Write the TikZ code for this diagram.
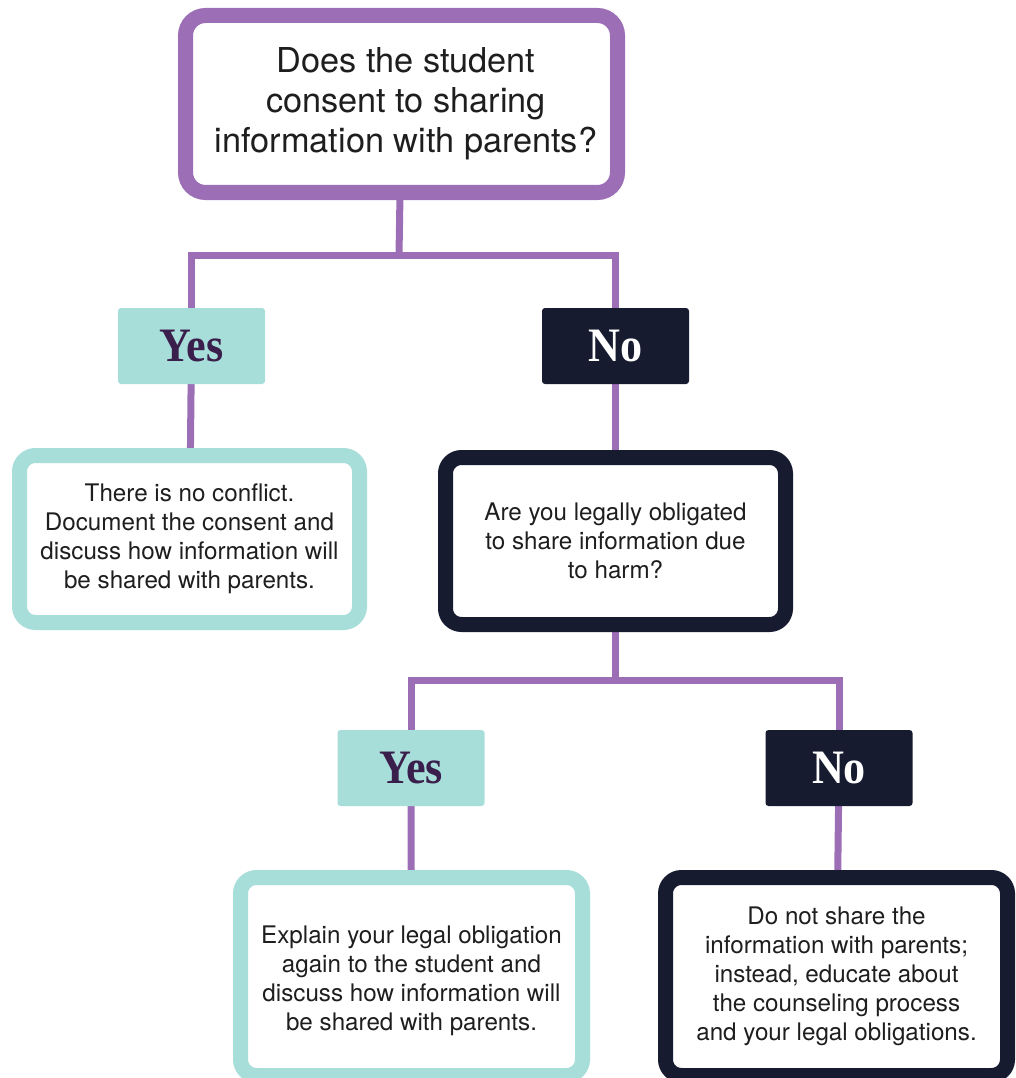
\documentclass[tikz,border=0pt]{standalone}
\usepackage{fontspec}
\setmainfont{TeX Gyre Heros}
\newfontfamily\labelfont[FakeStretch=0.92]{Liberation Serif}
\usetikzlibrary{backgrounds}
\definecolor{conn}{RGB}{155,110,182}
\definecolor{tealc}{RGB}{168,222,218}
\definecolor{navy}{RGB}{22,27,48}
\definecolor{yestext}{RGB}{58,30,75}
\definecolor{bodytext}{RGB}{30,30,30}
\tikzset{
  qbox/.style={draw=conn, line width=15pt, fill=white, rounded corners=20pt,
    minimum width=432pt, minimum height=177pt, align=center, text=bodytext,
    font=\fontsize{34.3}{40}\selectfont, inner sep=0pt},
  tbox/.style={draw=tealc, line width=15pt, fill=white, rounded corners=16pt,
    minimum width=340pt, minimum height=167pt, align=center, text=bodytext,
    font=\fontsize{24.2}{29}\selectfont, inner sep=0pt},
  nbox/.style={tbox, draw=navy},
  yesbox/.style={fill=tealc, minimum width=147pt, minimum height=76pt, inner sep=0pt,
    rounded corners=3pt, text=yestext, font=\labelfont\bfseries\fontsize{48}{52}\selectfont},
  nobox/.style={yesbox, fill=navy, text=white},
  link/.style={draw=conn, line width=7pt},
  bodytxt/.style={text=bodytext, align=center, font=\fontsize{24.2}{29}\selectfont, inner sep=0pt}
}
\begin{document}
\begin{tikzpicture}[x=1pt,y=-1pt]
\useasboundingbox (0,0) rectangle (1015,1078);
\node[qbox] (top) at (401.5,104) {};
\node[text=bodytext, align=center, font=\fontsize{34.3}{40}\selectfont, inner sep=0pt] (toptext) at (406,104) {Does the student\\consent to sharing\\information with parents?};
\node[yesbox] (yes1) at (191.5,346) {Yes};
\node[nobox] (no1) at (615.5,346) {No};
\node[tbox] (noconf) at (189.5,539) {There is no conflict.\\Document the consent and\\discuss how information will\\be shared with parents.};
\node[nbox] (legal) at (615.5,541) {Are you legally obligated\\to share information due\\to harm?};
\node[yesbox] (yes2) at (411,768) {Yes};
\node[nobox] (no2) at (839,768) {No};
\node[tbox, minimum width=342pt, minimum height=198pt] (explain) at (411.5,976.5) {};
\node[bodytxt] (explaintext) at (411.5,981) {Explain your legal obligation\\again to the student and\\discuss how information will\\be shared with parents.};
\node[nbox, minimum width=342pt, minimum height=198pt] (donot) at (836.5,976.5) {Do not share the\\information with parents;\\instead, educate about\\the counseling process\\and your legal obligations.};
\coordinate (j1) at (399,255);
\coordinate (j2) at (615.5,680);
\begin{scope}[on background layer]
\draw[link] (top.center) -- (j1);
\draw[link] (yes1.center) |- (j1) -| (no1.center);
\draw[link] (yes1.center) -- (noconf.center);
\draw[link] (no1.center) -- (legal.center);
\draw[link] (legal.center) -- (j2);
\draw[link] (yes2.center) |- (j2) -| (no2.center);
\draw[link] (yes2.center) -- (explain.center);
\draw[link] (no2.center) -- (donot.center);
\end{scope}
\end{tikzpicture}
\end{document}
